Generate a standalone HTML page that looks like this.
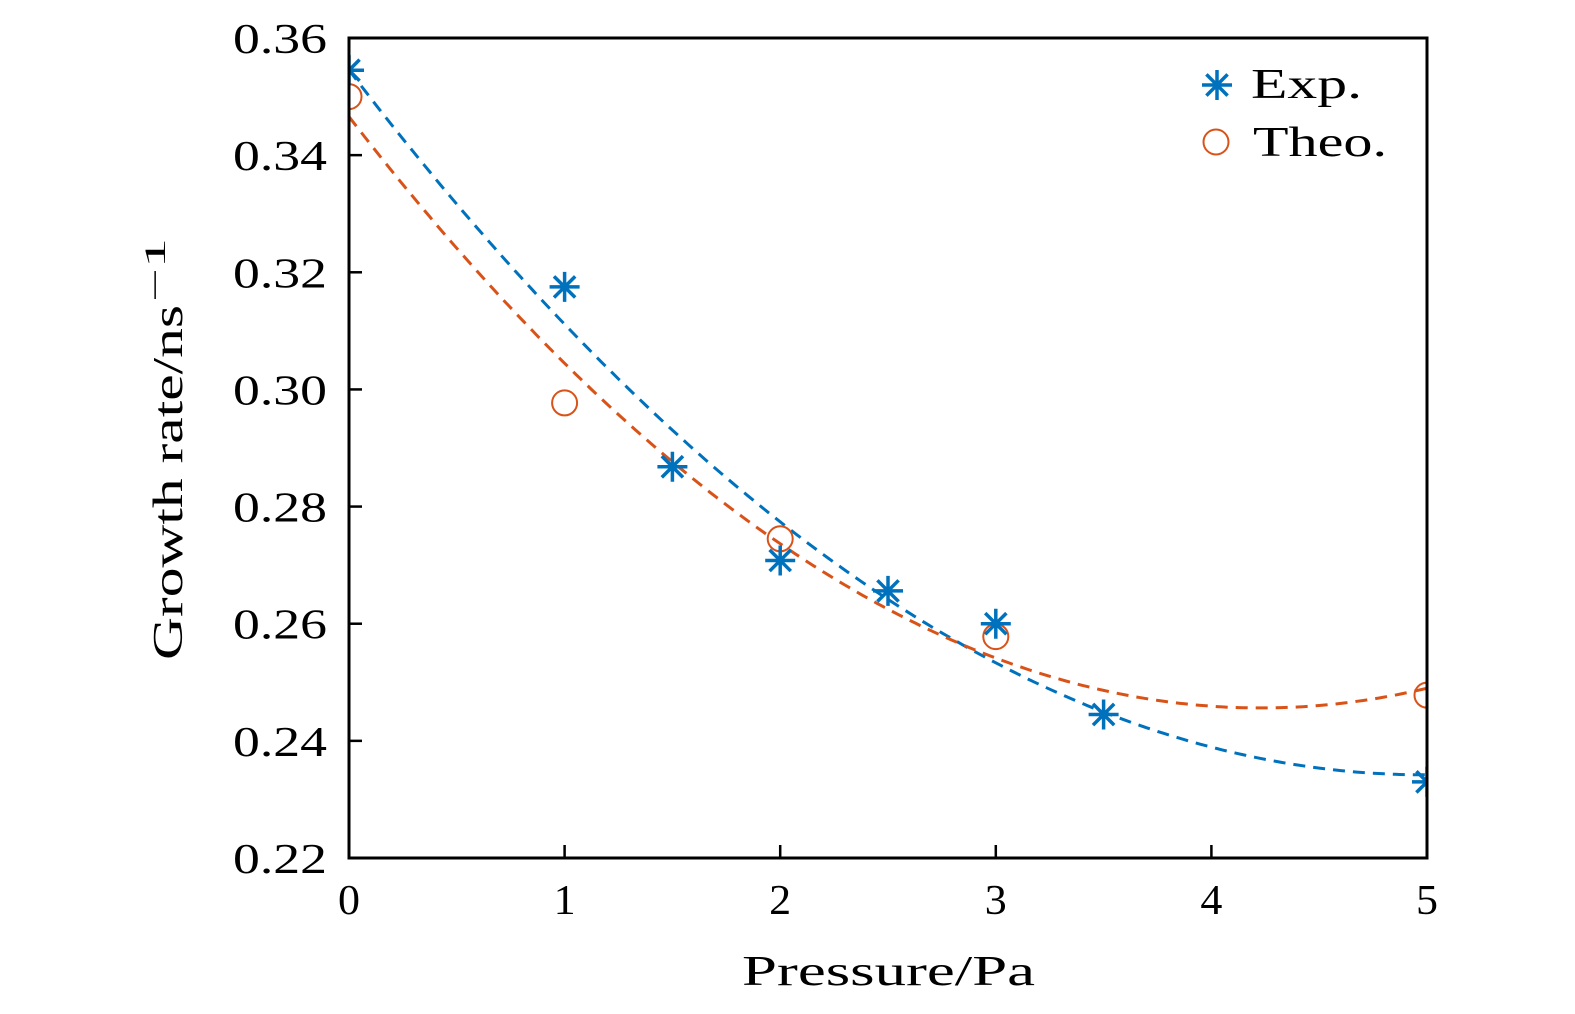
<!DOCTYPE html>
<html><head><meta charset="utf-8">
<style>
html,body{margin:0;padding:0;background:#fff;overflow:hidden;width:1575px;height:1014px;}
svg{display:block;font-family:"Liberation Serif",serif;}
</style></head>
<body>
<svg id="chart" width="1575" height="1014" viewBox="0 0 1575 1014">
<defs><clipPath id="pc"><rect x="349" y="38" width="1078" height="820"/></clipPath></defs>
<g id="ticks"></g>
<g id="fits" clip-path="url(#pc)"></g>
<g id="marks" clip-path="url(#pc)"></g>
<rect x="349" y="38" width="1078" height="820" fill="none" stroke="#000" stroke-width="3"/>
<text x="742" y="985" font-size="42" textLength="293" lengthAdjust="spacingAndGlyphs">Pressure/Pa</text>
<g transform="translate(182,660) rotate(-90)">
<text x="0" y="0" font-size="42" textLength="355" lengthAdjust="spacingAndGlyphs">Growth rate/ns</text>
<text x="358" y="-17" font-size="30" textLength="64" lengthAdjust="spacingAndGlyphs">−1</text>
</g>
<g>
<g>
<path d="M1217 70v30M1202 85h30M1206.4 74.4l21.2 21.2M1227.6 74.4l-21.2 21.2" stroke="#0072BD" stroke-width="3.5" fill="none"/>
<text x="1251" y="98" font-size="42" textLength="111" lengthAdjust="spacingAndGlyphs">Exp.</text></g>
<g>
<circle cx="1216" cy="142" r="12.5" fill="none" stroke="#D95319" stroke-width="2"/>
<text x="1253" y="156" font-size="42" textLength="134" lengthAdjust="spacingAndGlyphs">Theo.</text></g>
</g>
</svg>
<script>
const expX=[0,1,1.5,2,2.5,3,3.5,5];
const expY=[0.3545,0.3175,0.2868,0.2708,0.2656,0.2600,0.2445,0.2330];
const theoX=[0,1,2,3,5];
const theoY=[0.350,0.2977,0.2745,0.2578,0.2478];
const xTicks=[0,1,2,3,4,5];
const yTicks=[0.22,0.24,0.26,0.28,0.30,0.32,0.34,0.36];
const NS="http://www.w3.org/2000/svg";
const X0=349,X1=1427,Y0=858,Y1=38;
function sx(v){return X0+(v-0)/(5-0)*(X1-X0);}
function sy(v){return Y0-(v-0.22)/(0.36-0.22)*(Y0-Y1);}
function mk(t,a,p){const e=document.createElementNS(NS,t);for(const k in a)e.setAttribute(k,a[k]);p.appendChild(e);return e;}
const T=document.getElementById('ticks'),F=document.getElementById('fits'),M=document.getElementById('marks');
xTicks.forEach(v=>{
 const l=mk('line',{x1:sx(v),x2:sx(v),y1:Y0,y2:Y0-13,stroke:'#000','stroke-width':2.5},T);
 
 
 const t=mk('text',{x:sx(v),y:914,'font-size':42,'text-anchor':'middle',textLength:22,lengthAdjust:'spacingAndGlyphs'},T);t.textContent=String(v);
 
 
});
yTicks.forEach(v=>{
 const l=mk('line',{x1:X0,x2:X0+13,y1:sy(v),y2:sy(v),stroke:'#000','stroke-width':2.5},T);
 
 
 const t=mk('text',{x:233,y:sy(v)+15,'font-size':42,textLength:94,lengthAdjust:'spacingAndGlyphs'},T);t.textContent=v.toFixed(2);
 
 
});
function polyfit2(xs,ys){
 let S=[0,0,0,0,0],B=[0,0,0];
 xs.forEach((x,i)=>{for(let k=0;k<5;k++)S[k]+=Math.pow(x,k);for(let k=0;k<3;k++)B[k]+=ys[i]*Math.pow(x,k);});
 const A=[[S[0],S[1],S[2],B[0]],[S[1],S[2],S[3],B[1]],[S[2],S[3],S[4],B[2]]];
 for(let i=0;i<3;i++){for(let j=i+1;j<3;j++){const f=A[j][i]/A[i][i];for(let k=i;k<4;k++)A[j][k]-=f*A[i][k];}}
 const c=[0,0,0];for(let i=2;i>=0;i--){let s=A[i][3];for(let k=i+1;k<3;k++)s-=A[i][k]*c[k];c[i]=s/A[i][i];}
 return c;
}
function drawFit(xs,ys,col,name){
 const c=polyfit2(xs,ys);let d='';
 for(let i=0;i<=200;i++){const x=5*i/200;const y=c[0]+c[1]*x+c[2]*x*x;d+=(i?'L':'M')+sx(x).toFixed(1)+' '+sy(y).toFixed(1);}
 const p=mk('path',{d:d,fill:'none',stroke:col,'stroke-width':3,'stroke-dasharray':'12 8'},F);
 
 
}
drawFit(expX,expY,'#0072BD','exp-fit-curve');
drawFit(theoX,theoY,'#D95319','theo-fit-curve');
theoX.forEach((x,i)=>{
 const c=mk('circle',{cx:sx(x),cy:sy(theoY[i]),r:12.5,fill:'none',stroke:'#D95319','stroke-width':2},M);
 
 
});
expX.forEach((x,i)=>{
 const cx=sx(x),cy=sy(expY[i]),r=15,q=10.6;
 const p=mk('path',{d:`M${cx} ${cy-r}v${2*r}M${cx-r} ${cy}h${2*r}M${cx-q} ${cy-q}l${2*q} ${2*q}M${cx+q} ${cy-q}l${-2*q} ${2*q}`,stroke:'#0072BD','stroke-width':3.5,fill:'none'},M);
 
 
});
</script>
</body></html>
